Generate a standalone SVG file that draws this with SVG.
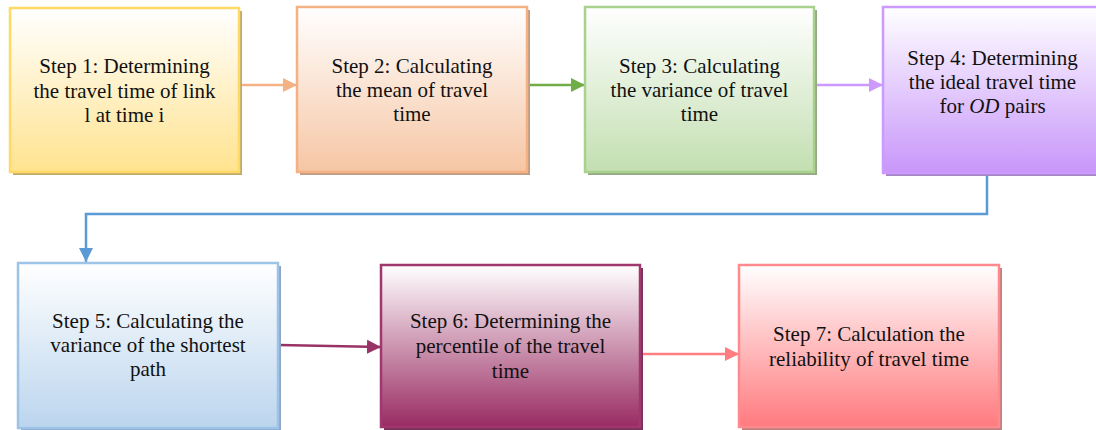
<svg xmlns="http://www.w3.org/2000/svg" width="1096" height="430" viewBox="0 0 1096 430">
<defs>
<linearGradient id="g1" x1="0" y1="0" x2="0" y2="1"><stop offset="0" stop-color="#FFFFFF"/><stop offset="1" stop-color="#FFE38F"/></linearGradient>
<linearGradient id="g2" x1="0" y1="0" x2="0" y2="1"><stop offset="0" stop-color="#FFFFFF"/><stop offset="1" stop-color="#F6C6A4"/></linearGradient>
<linearGradient id="g3" x1="0" y1="0" x2="0" y2="1"><stop offset="0" stop-color="#FFFFFF"/><stop offset="1" stop-color="#C3DFB1"/></linearGradient>
<linearGradient id="g4" x1="0" y1="0" x2="0" y2="1"><stop offset="0" stop-color="#FFFFFF"/><stop offset="1" stop-color="#C896FA"/></linearGradient>
<linearGradient id="g5" x1="0" y1="0" x2="0" y2="1"><stop offset="0" stop-color="#FFFFFF"/><stop offset="1" stop-color="#BBD5EE"/></linearGradient>
<linearGradient id="g6" x1="0" y1="0" x2="0" y2="1"><stop offset="0" stop-color="#FFFFFF"/><stop offset="1" stop-color="#992B62"/></linearGradient>
<linearGradient id="g7" x1="0" y1="0" x2="0" y2="1"><stop offset="0" stop-color="#FFFFFF"/><stop offset="1" stop-color="#FF7A7E"/></linearGradient>
<marker id="m-or" viewBox="0 0 14 14" refX="14" refY="7" markerWidth="14" markerHeight="14" markerUnits="userSpaceOnUse" orient="auto"><path d="M0,0 L14,7 L0,14 Z" fill="#F4B183"/></marker>
<marker id="m-gr" viewBox="0 0 14 14" refX="14" refY="7" markerWidth="14" markerHeight="14" markerUnits="userSpaceOnUse" orient="auto"><path d="M0,0 L14,7 L0,14 Z" fill="#70AD47"/></marker>
<marker id="m-pu" viewBox="0 0 14 14" refX="14" refY="7" markerWidth="14" markerHeight="14" markerUnits="userSpaceOnUse" orient="auto"><path d="M0,0 L14,7 L0,14 Z" fill="#CC99FF"/></marker>
<marker id="m-bl" viewBox="0 0 14 14" refX="14" refY="7" markerWidth="14" markerHeight="14" markerUnits="userSpaceOnUse" orient="auto"><path d="M0,0 L14,7 L0,14 Z" fill="#5B9BD5"/></marker>
<marker id="m-mg" viewBox="0 0 14 14" refX="14" refY="7" markerWidth="14" markerHeight="14" markerUnits="userSpaceOnUse" orient="auto"><path d="M0,0 L14,7 L0,14 Z" fill="#993366"/></marker>
<marker id="m-rd" viewBox="0 0 14 14" refX="14" refY="7" markerWidth="14" markerHeight="14" markerUnits="userSpaceOnUse" orient="auto"><path d="M0,0 L14,7 L0,14 Z" fill="#FF7C80"/></marker>
</defs>
<style>
text { font-family: "Liberation Serif", "Times New Roman", serif; font-size: 21px; fill: #111111; text-anchor: middle; }
.box { stroke-width: 2.5; }
.conn { fill: none; stroke-width: 2.5; }
</style>
<rect width="1096" height="430" fill="#FFFFFF"/>
<g id="connectors">
<line class="conn" x1="240" y1="85" x2="297" y2="85" stroke="#F4B183" marker-end="url(#m-or)"/>
<line class="conn" x1="528" y1="85" x2="585" y2="85" stroke="#70AD47" marker-end="url(#m-gr)"/>
<line class="conn" x1="815" y1="85" x2="883" y2="85" stroke="#CC99FF" marker-end="url(#m-pu)"/>
<polyline class="conn" points="987,174 987,214 86,214 86,262" stroke="#5B9BD5" marker-end="url(#m-bl)"/>
<line class="conn" x1="279" y1="345" x2="381" y2="347" stroke="#993366" marker-end="url(#m-mg)"/>
<line class="conn" x1="641" y1="354" x2="739" y2="354" stroke="#FF7C80" marker-end="url(#m-rd)"/>
</g>
<g id="step1">
<rect x="13" y="11" width="229" height="164" fill="#BFAA6E"/>
<rect class="box" x="10" y="8" width="229" height="164" fill="url(#g1)" stroke="#FFD966"/>
<text x="124.5" y="73">Step 1: Determining</text>
<text x="124.5" y="97.5">the travel time of link</text>
<text x="124.5" y="122">l at time i</text>
</g>
<g id="step2">
<rect x="300" y="10" width="230" height="165" fill="#BE9C86"/>
<rect class="box" x="297" y="7" width="230" height="165" fill="url(#g2)" stroke="#F4B183"/>
<text x="412" y="73">Step 2: Calculating</text>
<text x="412" y="97">the mean of travel</text>
<text x="412" y="121">time</text>
</g>
<g id="step3">
<rect x="588" y="10" width="229" height="165" fill="#94A886"/>
<rect class="box" x="585" y="7" width="229" height="165" fill="url(#g3)" stroke="#A9D18E"/>
<text x="699.5" y="73">Step 3: Calculating</text>
<text x="699.5" y="97">the variance of travel</text>
<text x="699.5" y="121">time</text>
</g>
<g id="step4">
<rect x="886" y="10" width="220" height="166" fill="#A586C4"/>
<rect class="box" x="883" y="7" width="220" height="166" fill="url(#g4)" stroke="#CC99FF"/>
<text x="992.5" y="65">Step 4: Determining</text>
<text x="992.5" y="89">the ideal travel time</text>
<text x="992.5" y="113">for <tspan font-style="italic">OD</tspan> pairs</text>
</g>
<g id="step5">
<rect x="21" y="266" width="260" height="165" fill="#8FA6C4"/>
<rect class="box" x="18" y="263" width="260" height="165" fill="url(#g5)" stroke="#9DC3E6"/>
<text x="148" y="328">Step 5: Calculating the</text>
<text x="148" y="352">variance of the shortest</text>
<text x="148" y="376">path</text>
</g>
<g id="step6">
<rect x="384" y="268" width="259" height="162" fill="#7A3358"/>
<rect class="box" x="381" y="265" width="259" height="162" fill="url(#g6)" stroke="#A0376E"/>
<text x="510.5" y="328">Step 6: Determining the</text>
<text x="510.5" y="353">percentile of the travel</text>
<text x="510.5" y="378">time</text>
</g>
<g id="step7">
<rect x="742" y="268" width="260" height="162" fill="#C08080"/>
<rect class="box" x="739" y="265" width="260" height="162" fill="url(#g7)" stroke="#FF8A8E"/>
<text x="869" y="341">Step 7: Calculation the</text>
<text x="869" y="366">reliability of travel time</text>
</g>
</svg>
